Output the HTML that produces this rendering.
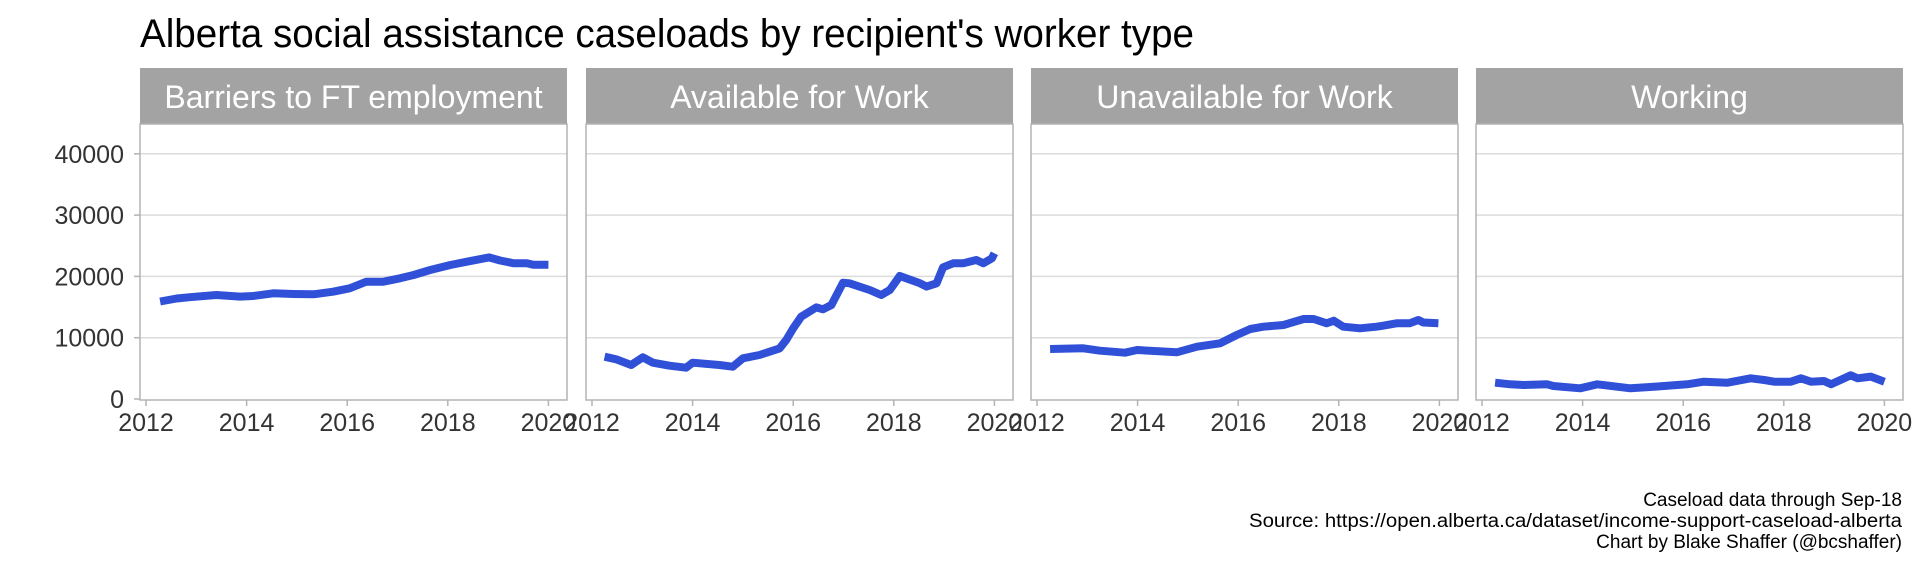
<!DOCTYPE html>
<html><head><meta charset="utf-8"><style>
html,body{margin:0;padding:0;background:#fff;}
svg{display:block;font-family:"Liberation Sans",sans-serif;}
</style></head><body>
<svg id="chart" width="1920" height="576" viewBox="0 0 1920 576">
<text x="140" y="47" font-size="40" fill="#000" textLength="1054" lengthAdjust="spacingAndGlyphs">Alberta social assistance caseloads by recipient's worker type</text>
<g id="panels"></g>
<text x="1902" y="506" font-size="19" text-anchor="end" fill="#000">Caseload data through Sep-18</text>
<text x="1902" y="527" font-size="19" text-anchor="end" fill="#000" textLength="653" lengthAdjust="spacingAndGlyphs">Source: https://open.alberta.ca/dataset/income-support-caseload-alberta</text>
<text x="1902" y="548" font-size="19" text-anchor="end" fill="#000">Chart by Blake Shaffer (@bcshaffer)</text>
</svg>
<script>
const panelTitles = ["Barriers to FT employment","Available for Work","Unavailable for Work","Working"];
const yTicks = [0,10000,20000,30000,40000];
const xTicks = [2012,2014,2016,2018,2020];
const barriersYears = [2012.28,2012.61,2012.87,2013.4,2013.87,2014.13,2014.53,2014.93,2015.33,2015.72,2016.05,2016.38,2016.72,2017.05,2017.32,2017.65,2018.05,2018.38,2018.82,2019.04,2019.3,2019.57,2019.7,2020.0];
const barriersValues = [15900,16400,16600,16970,16700,16800,17240,17130,17080,17500,18060,19140,19140,19690,20230,21040,21860,22400,23100,22600,22150,22150,21900,21900];
const availableYears = [2012.25,2012.48,2012.78,2013.01,2013.21,2013.54,2013.87,2014.0,2014.53,2014.8,2015.0,2015.33,2015.73,2015.86,2016.0,2016.16,2016.46,2016.59,2016.76,2016.99,2017.12,2017.52,2017.75,2017.92,2018.12,2018.52,2018.65,2018.85,2018.98,2019.18,2019.38,2019.64,2019.78,2019.95,2020.0];
const availableValues = [6900,6480,5550,6800,5920,5430,5100,5920,5550,5270,6640,7180,8260,9620,11530,13430,14950,14630,15330,18980,18870,17780,16960,17780,20070,18870,18330,18870,21480,22130,22130,22680,22130,22950,23770];
const unavailableYears = [2012.26,2012.92,2013.25,2013.75,2013.99,2014.78,2015.18,2015.64,2015.97,2016.24,2016.5,2016.9,2017.3,2017.5,2017.76,2017.9,2018.09,2018.42,2018.75,2018.88,2019.15,2019.41,2019.58,2019.68,2019.98];
const unavailableValues = [8160,8270,7880,7550,8000,7620,8530,9080,10440,11420,11790,12070,13050,13050,12350,12770,11790,11530,11790,11960,12350,12350,12890,12480,12350];
const workingYears = [2012.26,2012.56,2012.83,2013.29,2013.42,2013.95,2014.29,2014.95,2015.42,2016.08,2016.41,2016.88,2017.34,2017.61,2017.81,2018.14,2018.34,2018.54,2018.8,2018.94,2019.33,2019.47,2019.73,2020.0];
const workingValues = [2660,2390,2290,2390,2120,1750,2390,1750,2010,2390,2820,2660,3380,3100,2820,2820,3380,2820,2930,2390,3870,3380,3650,2820];

const seriesYears = [barriersYears, availableYears, unavailableYears, workingYears];
const seriesValues = [barriersValues, availableValues, unavailableValues, workingValues];
const panelNames = ["barriers","available","unavailable","working"];

const NS = "http://www.w3.org/2000/svg";
const root = document.getElementById("panels");
const panelLefts = [140,586,1031,1476];
const panelW = 427, headTop = 68, plotTop = 124, plotBottom = 400;
function yScale(v){ return 399 - v/10000*61.3; }
function xScale(left, yr){ return left + 6 + (yr-2012)*50.3; }
function mk(tag, attrs, parent){ const e=document.createElementNS(NS,tag); for(const k in attrs) e.setAttribute(k,attrs[k]); (parent||root).appendChild(e); return e; }

panelLefts.forEach((L,i)=>{
  const g = mk("g",{});
  
  
  const hdr = mk("rect",{x:L,y:headTop,width:panelW,height:plotTop-headTop,fill:"#a3a3a3"},g);
  
  
  const ht = mk("text",{x:L+panelW/2,y:108,"font-size":32,fill:"#fff","text-anchor":"middle"},g);
  ht.textContent = panelTitles[i];
  
  
  yTicks.forEach(t=>{
    const y=yScale(t);
    if(t>0){
      const gl = mk("line",{x1:L,x2:L+panelW,y1:y,y2:y,stroke:"#dcdcdc","stroke-width":1.5},g);
      
      
    }
    if(i===0){
      const tk = mk("line",{x1:L-6,x2:L,y1:y,y2:y,stroke:"#b3b3b3","stroke-width":1.5},g);
      
      
      const tl = mk("text",{x:L-16,y:y+9,"font-size":25,fill:"#333","text-anchor":"end"},g);
      tl.textContent = t;
      
      
    }
  });
  const border = mk("rect",{x:L,y:plotTop,width:panelW,height:plotBottom-plotTop,fill:"none",stroke:"#b3b3b3","stroke-width":1.5},g);
  
  
  xTicks.forEach(t=>{
    const x=xScale(L,t);
    const tk = mk("line",{x1:x,x2:x,y1:plotBottom,y2:plotBottom+6,stroke:"#b3b3b3","stroke-width":1.5},g);
    
    
    const tl = mk("text",{x:x,y:431,"font-size":25,fill:"#333","text-anchor":"middle"},g);
    tl.textContent = t;
    
    
  });
  const yrs = seriesYears[i], vals = seriesValues[i];
  const d = yrs.map((yr,k)=>(k?"L":"M")+xScale(L,yr).toFixed(1)+","+yScale(vals[k]).toFixed(1)).join(" ");
  const p = mk("path",{d:d,fill:"none",stroke:"#3050d8","stroke-width":8,"stroke-linejoin":"round"},g);
  
  
});
</script>
</body></html>
